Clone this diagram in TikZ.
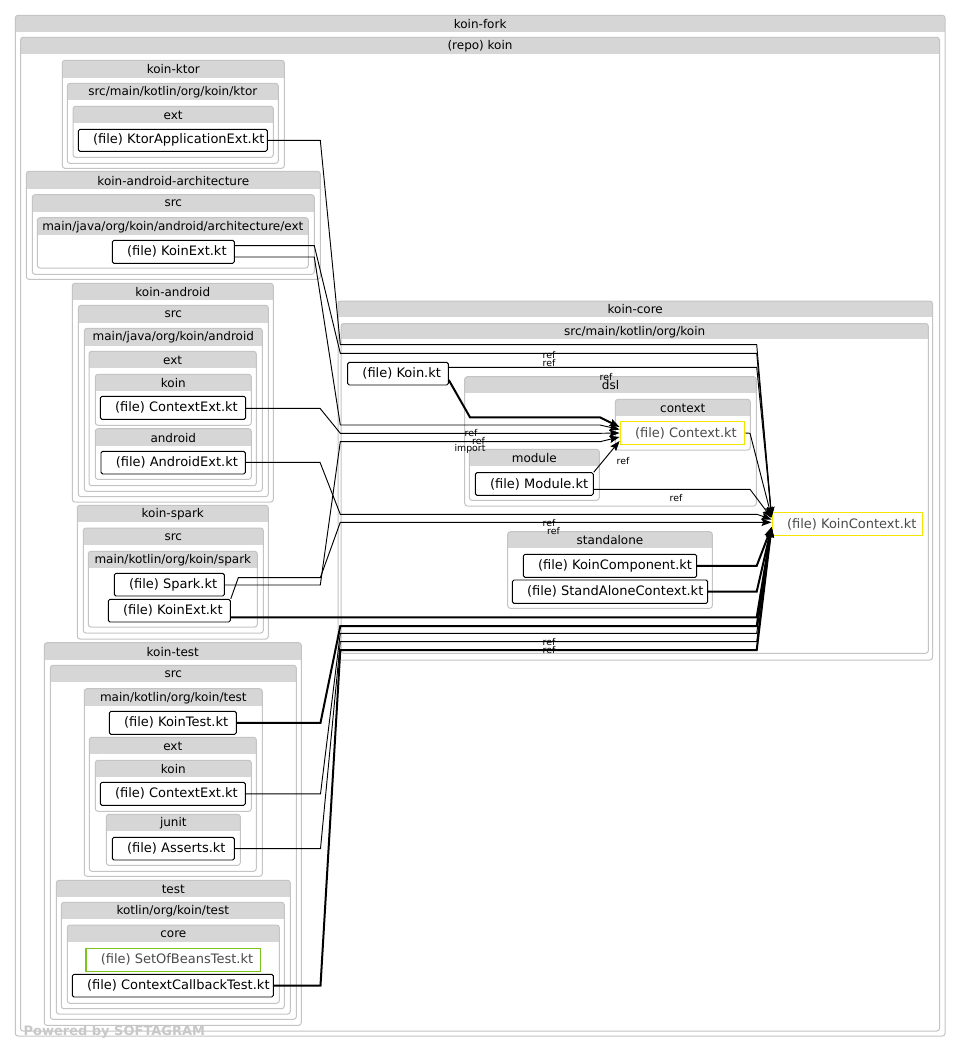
\documentclass[tikz,border=0pt]{standalone}
\usepackage{fontspec}
\setmainfont{DejaVu Sans}
\usetikzlibrary{arrows.meta}
\definecolor{hdr}{HTML}{D6D6D6}
\definecolor{ctrb}{HTML}{C4C4C4}
\definecolor{ylw}{HTML}{F5E400}
\definecolor{grn}{HTML}{7CC41C}
\definecolor{ftxt}{HTML}{4A4A4A}
\definecolor{pwr}{HTML}{C8C8C8}
\tikzset{
  hdrtxt/.style={inner sep=0pt, font=\fontsize{9}{10}\selectfont},
  filebox/.style={draw=black, line width=0.7pt, rounded corners=1.2pt, inner sep=0pt},
  ylwbox/.style={draw=ylw, line width=1.1pt, inner sep=0pt},
  grnbox/.style={draw=grn, line width=1.1pt, inner sep=0pt},
  ftext/.style={inner sep=0pt, anchor=west, font=\fontsize{9.75}{11}\selectfont},
  elab/.style={inner sep=0pt, font=\fontsize{7}{8}\selectfont},
  e/.style={line width=0.7pt, -{Stealth[length=7.5pt,width=5.5pt,inset=1.2pt]}},
  et/.style={line width=1.5pt, -{Stealth[length=7.5pt,width=5.5pt,inset=1.2pt]}},
}
% container: name x1 y1 x2 y2 headerbottom text
\newcommand{\mkctr}[7]{%
  \fill[hdr] (#2+0.4,#3+0.4) rectangle (#4-0.4,#6);
  \draw[ctrb, line width=0.75pt, rounded corners=2pt] (#2,#3) rectangle (#4,#5);
  \node[hdrtxt] (#1) at ({(#2+#4)/2},{(#3+#6)/2+0.5}) {#7};
}
% file: name x1 y1 x2 y2 style text
\newcommand{\mkfile}[7]{%
  \node[#6, minimum width={(#4-#2)*0.75pt}, minimum height={(#5-#3)*0.75pt}] (#1) at ({(#2+#4)/2},{(#3+#5)/2}) {};
  \node[ftext] (#1t) at ({#2+14.5},{(#3+#5)/2}) {#7};
}
\begin{document}
\begin{tikzpicture}[x=0.75pt,y=-0.75pt]
\useasboundingbox (0,0) rectangle (960,1052);
\fill[white] (0,0) rectangle (960,1052);

\mkctr{fork}{15.3}{15.3}{945}{1036}{32}{koin-fork}
\mkctr{repo}{20.5}{37.3}{939.5}{1031}{54.3}{(repo) koin}

% koin-ktor
\mkctr{ktor}{62.3}{60.3}{284.3}{168.3}{77.7}{koin-ktor}
\mkctr{ktorsrc}{67.3}{83.3}{278.3}{163.3}{100.3}{src/main/kotlin/org/koin/ktor}
\mkctr{ktorext}{73}{106.3}{273.3}{157.3}{123.3}{ext}
\mkfile{ktorapp}{78.3}{129.3}{267.3}{151.3}{filebox}{(file) KtorApplicationExt.kt}

% koin-android-architecture
\mkctr{arch}{26.3}{171.3}{320.3}{279.3}{189}{koin-android-architecture}
\mkctr{archsrc}{32.3}{194.7}{314.3}{274.3}{211.7}{src}
\mkctr{archmain}{37.3}{217.7}{308.3}{268}{234.7}{main/java/org/koin/android/architecture/ext}
\mkfile{archkoinext}{112.3}{240.3}{234.3}{263.3}{filebox}{(file) KoinExt.kt}

% koin-android
\mkctr{android}{72.3}{283.3}{273.3}{502}{300.3}{koin-android}
\mkctr{androidsrc}{78.3}{305.3}{268.3}{496.7}{322.7}{src}
\mkctr{androidmain}{84.3}{328.3}{262.3}{491.3}{345.7}{main/java/org/koin/android}
\mkctr{androidext}{89}{351.3}{256.3}{485.7}{368.3}{ext}
\mkctr{androidkoin}{95.3}{374.3}{251.3}{425.3}{391.3}{koin}
\mkfile{actx}{100.3}{396.3}{245.7}{419.3}{filebox}{(file) ContextExt.kt}
\mkctr{androidandroid}{95.3}{428.7}{251.3}{479.3}{445.7}{android}
\mkfile{aext}{101}{451.3}{245.3}{474}{filebox}{(file) AndroidExt.kt}

% koin-spark
\mkctr{spark}{77.3}{505.3}{268.3}{639}{522.3}{koin-spark}
\mkctr{sparksrc}{83.3}{528}{263.3}{633}{545.3}{src}
\mkctr{sparkmain}{88.3}{551.3}{257.3}{627}{568.3}{main/kotlin/org/koin/spark}
\mkfile{sparkkt}{114.3}{573.3}{224.3}{596}{filebox}{(file) Spark.kt}
\mkfile{sparkkoinext}{108.3}{599.3}{230.3}{622}{filebox}{(file) KoinExt.kt}

% koin-test
\mkctr{test}{44.3}{642.7}{301.3}{1025.3}{659.7}{koin-test}
\mkctr{testsrc}{50.3}{665.3}{296.3}{1019.3}{682.3}{src}
\mkctr{testmain}{84.3}{688.7}{262.3}{876.3}{705.7}{main/kotlin/org/koin/test}
\mkfile{kointest}{109.3}{711.3}{236.3}{734.3}{filebox}{(file) KoinTest.kt}
\mkctr{testext}{89.3}{737.3}{256.3}{871.3}{754.3}{ext}
\mkctr{testkoin}{95.3}{760.3}{251.3}{811.3}{777}{koin}
\mkfile{tctx}{100.3}{782.3}{245.3}{805.3}{filebox}{(file) ContextExt.kt}
\mkctr{junit}{106.3}{814.3}{240.3}{865.3}{831}{junit}
\mkfile{asserts}{112.3}{837.3}{234.3}{860}{filebox}{(file) Asserts.kt}
\mkctr{testtest}{56.3}{880.3}{290.3}{1014}{897}{test}
\mkctr{testkotlin}{61.3}{902.3}{284.3}{1008.7}{919.3}{kotlin/org/koin/test}
\mkctr{core}{67.3}{925}{279.3}{1003.3}{942.3}{core}
\mkfile{setof}{86}{948.3}{260.3}{971.3}{grnbox}{\textcolor{ftxt}{(file) SetOfBeansTest.kt}}
\mkfile{ccb}{72.3}{974.3}{273.3}{997}{filebox}{(file) ContextCallbackTest.kt}

% koin-core
\mkctr{koincore}{338}{301}{932.5}{660}{317}{koin-core}
\mkctr{coresrc}{341}{323.5}{928.3}{653.3}{339}{src/main/kotlin/org/koin}
\mkfile{koinkt}{347.7}{362.3}{448.3}{385}{filebox}{(file) Koin.kt}
\mkctr{dsl}{464.7}{376.7}{756.3}{506}{393.3}{dsl}
\mkctr{context}{615.3}{399.3}{750.3}{450}{416}{context}
\mkfile{ctxkt}{620.3}{421.7}{744.7}{444.3}{ylwbox}{\textcolor{ftxt}{(file) Context.kt}}
\mkctr{module}{469.3}{449.3}{599.3}{500.3}{466}{module}
\mkfile{modkt}{475.3}{472.7}{593.3}{495.3}{filebox}{(file) Module.kt}
\mkfile{koinctx}{772.3}{512.3}{922.3}{535.7}{ylwbox}{\textcolor{ftxt}{(file) KoinContext.kt}}
\mkctr{standalone}{507.7}{531.7}{712.3}{608.3}{548.3}{standalone}
\mkfile{kcomp}{523.3}{554.3}{696.7}{577.3}{filebox}{(file) KoinComponent.kt}
\mkfile{sactx}{512.3}{580}{707.7}{603.3}{filebox}{(file) StandAloneContext.kt}

% edges into KoinContext.kt
\draw[e] (ktorapp.east) -- (320.3,140.3) -- (340.3,344.7) -- (756.7,344.7) -- (koinctx.west |- 0,517);
\draw[e] (archkoinext.east |- 0,245.7) -- (314.3,245.7) -- (340.3,353.3) -- (756.7,353.3) -- (koinctx.west |- 0,517);
\draw[e] (koinkt.east |- 0,367.3) -- (756.7,367.3) -- (koinctx.west |- 0,517);
\draw[e] (ctxkt.east) -- (750,433.3) -- (koinctx.west |- 0,517);
\draw[e] (modkt.east |- 0,489.3) -- (750,489.3) -- (koinctx.west |- 0,518);
\draw[e] (aext.east |- 0,462.3) -- (320,462.3) -- (340.3,514.3) -- (757,514.3) -- (koinctx.west |- 0,519.5);
\draw[e] (sparkkoinext.north east) -- (238.3,577.7) -- (320.3,577.7) -- (340.3,522.3) -- (koinctx.west |- 0,522.3);
\draw[et] (kcomp.east) -- (756.7,565.8) -- (koinctx.west |- 0,527);
\draw[et] (sactx.east) -- (756.7,591.6) -- (koinctx.west |- 0,527);
\draw[et] (sparkkoinext.east |- 0,617.3) -- (756.7,617.3) -- (koinctx.west |- 0,527);
\draw[et] (kointest.east) -- (320.5,722.8) -- (340.3,626) -- (756.7,626) -- (koinctx.west |- 0,527);
\draw[e] (tctx.east) -- (320.5,793.8) -- (340.3,633.3) -- (756.7,633.3) -- (koinctx.west |- 0,527);
\draw[e] (asserts.east) -- (320.5,848.6) -- (340.3,641.7) -- (756.7,641.7) -- (koinctx.west |- 0,527);
\draw[et] (ccb.east) -- (320.5,985.6) -- (340.3,650) -- (756.7,650) -- (koinctx.west |- 0,527);

% edges into Context.kt
\draw[et] (koinkt.east |- 0,380) -- (470,417.3) -- (600,417.3) -- (ctxkt.west |- 0,427);
\draw[e] (archkoinext.east |- 0,257) -- (314.3,257) -- (340.3,425) -- (600,425) -- (ctxkt.west |- 0,429.5);
\draw[e] (actx.east |- 0,408.3) -- (320,408.3) -- (340.3,433.3) -- (600,433.3) -- (ctxkt.west |- 0,433);
\draw[e] (sparkkt.east |- 0,585) -- (320.3,585) -- (340.3,441.7) -- (600,441.7) -- (ctxkt.west |- 0,437);
\draw[e] (modkt.north east) -- (ctxkt.west |- 0,441);

% edge labels
\node[elab] (l1) at (549,355.5) {ref};
\node[elab] (l2) at (549,363) {ref};
\node[elab] (l3) at (606,377.5) {ref};
\node[elab] (l4) at (471,433.5) {ref};
\node[elab] (l5) at (478.5,441.5) {ref};
\node[elab] (l6) at (470,449) {import};
\node[elab] (l7) at (623,461) {ref};
\node[elab] (l8) at (676,498.5) {ref};
\node[elab] (l9) at (549,523) {ref};
\node[elab] (l10) at (553.5,531) {ref};
\node[elab] (l11) at (549,642.5) {ref};
\node[elab] (l12) at (549,650) {ref};

\node[anchor=west, inner sep=0pt, text=pwr, font=\fontsize{9.75}{11}\selectfont\bfseries] (pw) at (23.3,1031.8) {Powered by SOFTAGRAM};
\end{tikzpicture}
\end{document}
